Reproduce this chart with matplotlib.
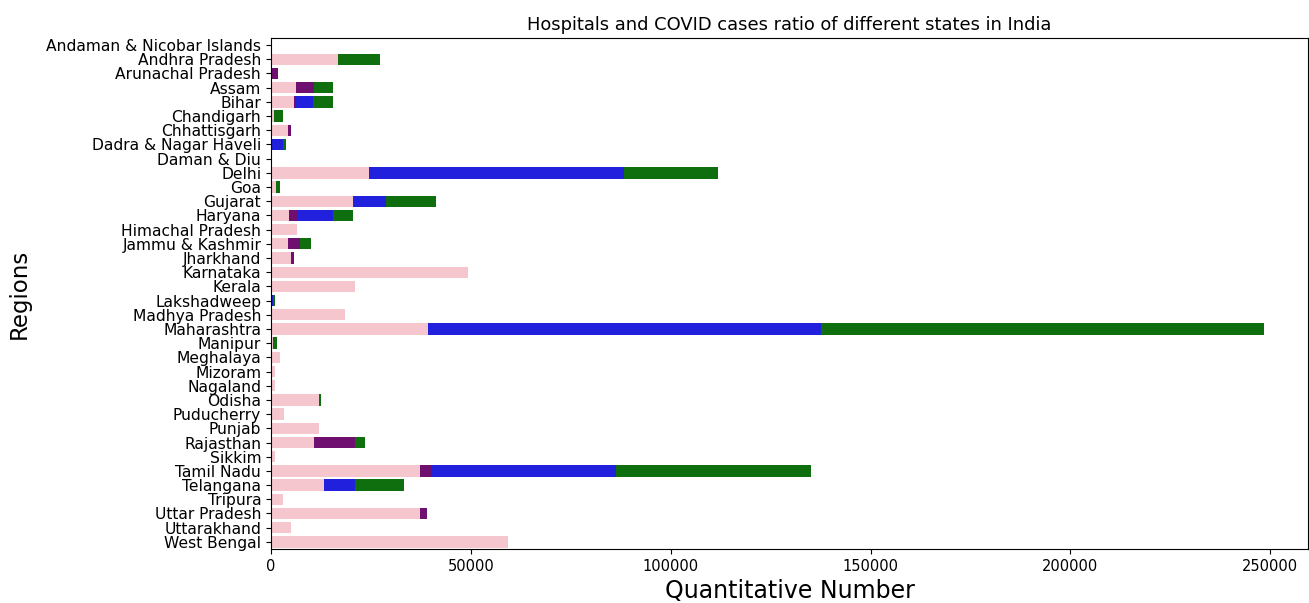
import matplotlib.pyplot as plt
import numpy as np

states = ['Andaman & Nicobar Islands', 'Andhra Pradesh', 'Arunachal Pradesh', 'Assam', 'Bihar',
          'Chandigarh', 'Chhattisgarh', 'Dadra & Nagar Haveli', 'Daman & Diu', 'Delhi', 'Goa',
          'Gujarat', 'Haryana', 'Himachal Pradesh', 'Jammu & Kashmir', 'Jharkhand', 'Karnataka',
          'Kerala', 'Lakshadweep', 'Madhya Pradesh', 'Maharashtra', 'Manipur', 'Meghalaya',
          'Mizoram', 'Nagaland', 'Odisha', 'Puducherry', 'Punjab', 'Rajasthan', 'Sikkim',
          'Tamil Nadu', 'Telangana', 'Tripura', 'Uttar Pradesh', 'Uttarakhand', 'West Bengal']

# hospital beds (pink, drawn on top)
beds = [0, 16750, 0, 6250, 5750, 750, 4250, 0, 0, 24500, 1250, 20500, 4500, 6500, 4250, 5000,
        49250, 21000, 0, 18500, 39250, 500, 2250, 1000, 1000, 12000, 3250, 12000, 10750, 1000,
        37250, 13250, 3000, 37250, 5000, 59250]
# active cases (purple)
active = [0, 0, 1750, 10750, 6000, 0, 5000, 0, 0, 0, 0, 0, 6500, 0, 7250, 5750,
          0, 0, 0, 0, 0, 0, 0, 0, 0, 0, 0, 0, 21000, 0,
          40250, 0, 0, 39000, 0, 0]
# cured (blue)
cured = [0, 0, 0, 0, 10500, 0, 0, 3000, 0, 88250, 0, 28750, 15500, 0, 0, 0,
         0, 0, 600, 0, 137500, 0, 0, 0, 0, 0, 0, 0, 0, 0,
         86250, 21000, 0, 0, 0, 0]
# confirmed (green)
confirmed = [0, 27250, 0, 15500, 15500, 3000, 0, 3750, 0, 111900, 2250, 41250, 20500, 0, 10000, 0,
             0, 0, 1000, 0, 248500, 1500, 0, 0, 0, 12500, 0, 0, 23500, 0,
             135000, 33250, 0, 0, 0, 0]

fig = plt.figure(figsize=(13.09, 6.03), dpi=100)
ax = fig.add_axes([0.207, 0.0896, 0.7925, 0.8474])

y = np.arange(len(states))
ax.barh(y, confirmed, height=0.8, color='#0f6f0f')
ax.barh(y, cured, height=0.8, color='#2020dd')
ax.barh(y, active, height=0.8, color='#6f0f6f')
ax.barh(y, beds, height=0.8, color='#f6c6cf')

ax.set_yticks(y)
ax.set_yticklabels(states, fontsize=11.2)
ax.set_ylim(len(states) - 0.5, -0.5)
ax.set_xlim(0, 259500)
ax.tick_params(axis='x', labelsize=10.5)
ax.set_xlabel('Quantitative Number', fontsize=17)
ax.set_ylabel('Regions', fontsize=16.5, labelpad=11)
ax.set_title('Hospitals and COVID cases ratio of different states in India', fontsize=12.9)

fig.savefig('out.png', dpi=100)
